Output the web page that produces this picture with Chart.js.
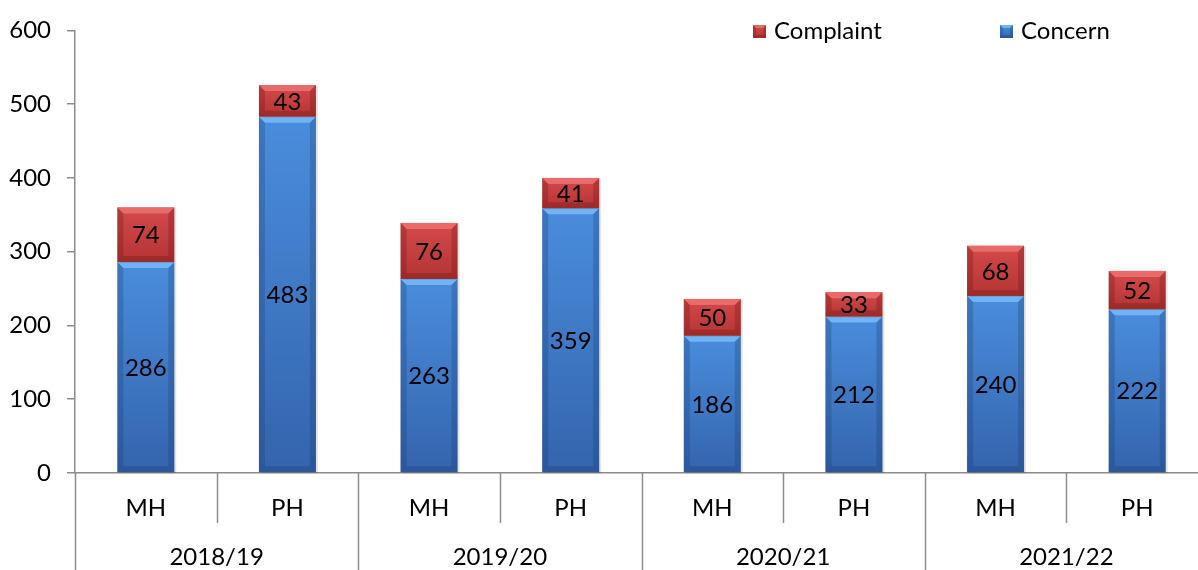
<!DOCTYPE html>
<html><head><meta charset="utf-8">
<script src="https://cdn.jsdelivr.net/npm/chart.js@4/dist/chart.umd.min.js"></script>
<style>
html,body{margin:0;padding:0;overflow:hidden;background:#fff}
#wrap{width:1210px;height:570px;position:relative}
</style>
</head><body>
<div id="wrap"><canvas id="c" width="1210" height="570"></canvas></div>
<script>
const years = ['2018/19','2019/20','2020/21','2021/22'];
const categories = ['MH','PH','MH','PH','MH','PH','MH','PH'];
const concern = [286,483,263,359,186,212,240,222];
const complaint = [74,43,76,41,50,33,68,52];
const yTicks = [0,100,200,300,400,500,600];
const seriesNames = ['Concern','Complaint'];

const FONT = 'Lato, "Open Sans", sans-serif';
const FS = 24;
const palette = {
  Concern: {top:'#4a8ddc', bot:'#3464ad', hi:'#6fb4f5', edge:'rgba(20,50,100,0.25)'},
  Complaint: {top:'#d44a4a', bot:'#b53434', hi:'#e86a6a', edge:'rgba(90,10,10,0.25)'}
};

function bevelRect(ctx, l, t, r, b, pal, bev) {
  const g = ctx.createLinearGradient(0, t, 0, b);
  g.addColorStop(0, pal.top); g.addColorStop(1, pal.bot);
  ctx.fillStyle = g; ctx.fillRect(l, t, r - l, b - t);
  const h = Math.min(bev, (b - t) / 2);
  ctx.fillStyle = pal.hi;
  ctx.beginPath(); ctx.moveTo(l, t); ctx.lineTo(r, t); ctx.lineTo(r - h, t + h); ctx.lineTo(l + h, t + h); ctx.closePath(); ctx.fill();
  ctx.fillStyle = pal.edge;
  ctx.beginPath(); ctx.moveTo(l, t); ctx.lineTo(l + h, t + h); ctx.lineTo(l + h, b - h); ctx.lineTo(l, b); ctx.closePath(); ctx.fill();
  ctx.beginPath(); ctx.moveTo(r, t); ctx.lineTo(r - h, t + h); ctx.lineTo(r - h, b - h); ctx.lineTo(r, b); ctx.closePath(); ctx.fill();
  ctx.beginPath(); ctx.moveTo(l, b); ctx.lineTo(l + h, b - h); ctx.lineTo(r - h, b - h); ctx.lineTo(r, b); ctx.closePath(); ctx.fill();
}

const bevelPlugin = {
  id: 'bevel',
  afterDatasetsDraw(chart) {
    const ctx = chart.ctx;
    ctx.save();
    chart.data.datasets.forEach((ds, di) => {
      const meta = chart.getDatasetMeta(di);
      const pal = palette[ds.label];
      meta.data.forEach((el, i) => {
        const p = el.getProps(['x','y','base','width'], true);
        const l = p.x - p.width / 2, r = p.x + p.width / 2;
        const t = Math.min(p.y, p.base), b = Math.max(p.y, p.base);
        ctx.fillStyle = 'rgba(0,0,0,0.10)';
        ctx.fillRect(l + 2, t + 1, r - l, b - t);
        bevelRect(ctx, l, t, r, b, pal, 6);
      });
    });
    chart.data.datasets.forEach((ds, di) => {
      const meta = chart.getDatasetMeta(di);
      meta.data.forEach((el, i) => {
        const p = el.getProps(['x','y','base'], true);
        ctx.fillStyle = '#000';
        ctx.font = FS + 'px ' + FONT;
        ctx.textAlign = 'center'; ctx.textBaseline = 'middle';
        ctx.fillText(String(ds.data[i]), p.x, (p.y + p.base) / 2 + 1);
      });
    });
    ctx.restore();
  }
};

const axisPlugin = {
  id: 'multiAxis',
  afterDraw(chart) {
    const ctx = chart.ctx, xs = chart.scales.x, ys = chart.scales.y;
    const n = categories.length;
    const w = (xs.right - xs.left) / n;
    const bottom = ys.bottom;
    ctx.save();
    ctx.strokeStyle = '#8c8c8c'; ctx.lineWidth = 1.5;
    for (let i = 0; i <= n; i++) {
      const x = Math.round(xs.left + i * w) + 0.5;
      ctx.beginPath(); ctx.moveTo(x, bottom); ctx.lineTo(x, i % 2 === 0 ? chart.height : bottom + 50); ctx.stroke();
    }
    ctx.fillStyle = '#000'; ctx.font = FS + 'px ' + FONT;
    ctx.textAlign = 'center'; ctx.textBaseline = 'middle';
    categories.forEach((c, i) => ctx.fillText(c, xs.getPixelForValue(i), bottom + 35));
    years.forEach((yv, k) => {
      const cx = (xs.getPixelForValue(2 * k) + xs.getPixelForValue(2 * k + 1)) / 2;
      ctx.fillText(yv, cx, bottom + 84);
    });
    const items = [['Complaint', 753], ['Concern', 1000]];
    items.forEach(([name, x0]) => {
      const pal = palette[name];
      bevelRect(ctx, x0, 25, x0 + 13, 38, pal, 3);
      ctx.fillStyle = '#000'; ctx.textAlign = 'left';
      ctx.fillText(name, x0 + 21, 31);
    });
    ctx.restore();
  }
};

new Chart(document.getElementById('c'), {
  type: 'bar',
  data: {
    labels: categories,
    datasets: [
      {label: seriesNames[0], data: concern, backgroundColor: 'rgba(0,0,0,0)', barThickness: 57},
      {label: seriesNames[1], data: complaint, backgroundColor: 'rgba(0,0,0,0)', barThickness: 57}
    ]
  },
  options: {
    responsive: false,
    animation: false,
    layout: {padding: {top: 27, right: 2, bottom: 0, left: 0}},
    plugins: {legend: {display: false}, tooltip: {enabled: false}},
    scales: {
      x: {
        stacked: true,
        grid: {display: false},
        border: {display: true, color: '#8c8c8c', width: 1.5},
        ticks: {display: false},
        afterFit(s) { s.height = 97; }
      },
      y: {
        stacked: true,
        min: 0, max: 600,
        afterBuildTicks(s) { s.ticks = yTicks.map(v => ({value: v})); },
        grid: {display: true, drawOnChartArea: false, drawTicks: true, tickLength: 8, color: '#8c8c8c', lineWidth: 1.5},
        border: {display: true, color: '#8c8c8c', width: 1.5},
        ticks: {color: '#000', font: {family: FONT, size: FS}, padding: 16},
        afterFit(s) { s.width = 75; }
      }
    }
  },
  plugins: [bevelPlugin, axisPlugin]
});
</script>
</body></html>
